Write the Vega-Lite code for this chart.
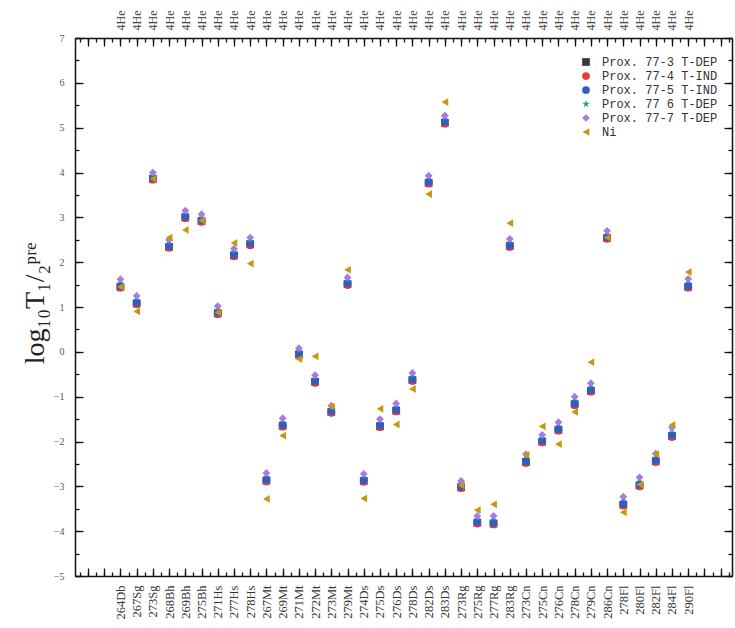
{
  "$schema": "https://vega.github.io/schema/vega-lite/v6.json",
  "width": 657,
  "height": 538,
  "autosize": {"type": "none"},
  "padding": {"left": 75, "top": 38, "right": 3, "bottom": 52},
  "background": "white",
  "config": {
    "view": {"stroke": null},
    "axis": {"domainColor": "#111", "domainWidth": 1.5, "tickColor": "#111", "tickWidth": 1.3, "grid": false, "labelFont": "Liberation Serif", "titleFont": "Liberation Serif"}
  },
  "data": {"values": [
    {"i": 1, "n": "264Db", "p3": 1.45, "p4": 1.43, "p5": 1.47, "p6": 1.59, "p7": 1.62, "ni": 1.45},
    {"i": 2, "n": "267Sg", "p3": 1.08, "p4": 1.06, "p5": 1.1, "p6": 1.22, "p7": 1.25, "ni": 0.9},
    {"i": 3, "n": "273Sg", "p3": 3.86, "p4": 3.84, "p5": 3.88, "p6": 3.97, "p7": 4.0, "ni": 3.86},
    {"i": 4, "n": "268Bh", "p3": 2.34, "p4": 2.32, "p5": 2.36, "p6": 2.47, "p7": 2.5, "ni": 2.55},
    {"i": 5, "n": "269Bh", "p3": 3.0, "p4": 2.98, "p5": 3.02, "p6": 3.12, "p7": 3.15, "ni": 2.72},
    {"i": 6, "n": "275Bh", "p3": 2.92, "p4": 2.9, "p5": 2.94, "p6": 3.04, "p7": 3.07, "ni": 2.93},
    {"i": 7, "n": "271Hs", "p3": 0.86, "p4": 0.84, "p5": 0.88, "p6": 0.99, "p7": 1.02, "ni": 0.88},
    {"i": 8, "n": "277Hs", "p3": 2.15, "p4": 2.13, "p5": 2.17, "p6": 2.27, "p7": 2.3, "ni": 2.43},
    {"i": 9, "n": "278Hs", "p3": 2.4, "p4": 2.38, "p5": 2.42, "p6": 2.52, "p7": 2.55, "ni": 1.97},
    {"i": 10, "n": "267Mt", "p3": -2.87, "p4": -2.89, "p5": -2.85, "p6": -2.73, "p7": -2.7, "ni": -3.28},
    {"i": 11, "n": "269Mt", "p3": -1.65, "p4": -1.67, "p5": -1.63, "p6": -1.51, "p7": -1.48, "ni": -1.87},
    {"i": 12, "n": "271Mt", "p3": -0.06, "p4": -0.08, "p5": -0.04, "p6": 0.05, "p7": 0.08, "ni": -0.16},
    {"i": 13, "n": "272Mt", "p3": -0.67, "p4": -0.69, "p5": -0.65, "p6": -0.55, "p7": -0.52, "ni": -0.1},
    {"i": 14, "n": "273Mt", "p3": -1.34, "p4": -1.36, "p5": -1.32, "p6": -1.23, "p7": -1.2, "ni": -1.22},
    {"i": 15, "n": "279Mt", "p3": 1.51, "p4": 1.49, "p5": 1.53, "p6": 1.63, "p7": 1.66, "ni": 1.83},
    {"i": 16, "n": "274Ds", "p3": -2.88, "p4": -2.9, "p5": -2.86, "p6": -2.75, "p7": -2.72, "ni": -3.27},
    {"i": 17, "n": "275Ds", "p3": -1.66, "p4": -1.68, "p5": -1.64, "p6": -1.53, "p7": -1.5, "ni": -1.27},
    {"i": 18, "n": "276Ds", "p3": -1.31, "p4": -1.33, "p5": -1.29, "p6": -1.18, "p7": -1.15, "ni": -1.62},
    {"i": 19, "n": "278Ds", "p3": -0.63, "p4": -0.65, "p5": -0.61, "p6": -0.5, "p7": -0.47, "ni": -0.83},
    {"i": 20, "n": "282Ds", "p3": 3.77, "p4": 3.75, "p5": 3.79, "p6": 3.9, "p7": 3.93, "ni": 3.52},
    {"i": 21, "n": "283Ds", "p3": 5.11, "p4": 5.09, "p5": 5.13, "p6": 5.24, "p7": 5.27, "ni": 5.57},
    {"i": 22, "n": "273Rg", "p3": -3.02, "p4": -3.04, "p5": -3.0, "p6": -2.91, "p7": -2.88, "ni": -2.98},
    {"i": 23, "n": "275Rg", "p3": -3.81, "p4": -3.83, "p5": -3.79, "p6": -3.69, "p7": -3.66, "ni": -3.53},
    {"i": 24, "n": "277Rg", "p3": -3.83, "p4": -3.85, "p5": -3.81, "p6": -3.69, "p7": -3.66, "ni": -3.4},
    {"i": 25, "n": "283Rg", "p3": 2.36, "p4": 2.34, "p5": 2.38, "p6": 2.49, "p7": 2.52, "ni": 2.87},
    {"i": 26, "n": "273Cn", "p3": -2.46, "p4": -2.48, "p5": -2.44, "p6": -2.31, "p7": -2.28, "ni": -2.3},
    {"i": 27, "n": "275Cn", "p3": -2.0, "p4": -2.02, "p5": -1.98, "p6": -1.88, "p7": -1.85, "ni": -1.66},
    {"i": 28, "n": "276Cn", "p3": -1.74, "p4": -1.76, "p5": -1.72, "p6": -1.6, "p7": -1.57, "ni": -2.06},
    {"i": 29, "n": "278Cn", "p3": -1.17, "p4": -1.19, "p5": -1.15, "p6": -1.03, "p7": -1.0, "ni": -1.34},
    {"i": 30, "n": "279Cn", "p3": -0.87, "p4": -0.89, "p5": -0.85, "p6": -0.73, "p7": -0.7, "ni": -0.23},
    {"i": 31, "n": "286Cn", "p3": 2.54, "p4": 2.52, "p5": 2.56, "p6": 2.67, "p7": 2.7, "ni": 2.55},
    {"i": 32, "n": "278Fl", "p3": -3.41, "p4": -3.43, "p5": -3.39, "p6": -3.26, "p7": -3.23, "ni": -3.58},
    {"i": 33, "n": "280Fl", "p3": -2.98, "p4": -3.0, "p5": -2.96, "p6": -2.83, "p7": -2.8, "ni": -2.96},
    {"i": 34, "n": "282Fl", "p3": -2.44, "p4": -2.46, "p5": -2.42, "p6": -2.3, "p7": -2.27, "ni": -2.28},
    {"i": 35, "n": "284Fl", "p3": -1.88, "p4": -1.9, "p5": -1.86, "p6": -1.71, "p7": -1.68, "ni": -1.63},
    {"i": 36, "n": "290Fl", "p3": 1.45, "p4": 1.43, "p5": 1.47, "p6": 1.6, "p7": 1.63, "ni": 1.78}
  ]},
  "transform": [{"fold": ["p3", "p4", "p5", "p6", "p7", "ni"], "as": ["s", "v"]}],
  "layer": [
    {
      "mark": {"type": "point", "opacity": 0},
      "encoding": {
        "x": {
          "field": "i", "type": "quantitative",
          "scale": {"domain": [-1.8, 38.7], "nice": false, "zero": false},
          "axis": {"orient": "bottom", "title": null, "tickCount": 80, "labels": false, "domain": false, "tickSize": -4}
        },
        "y": {
          "field": "v", "type": "quantitative",
          "scale": {"domain": [-5, 7], "nice": false, "zero": false},
          "axis": {"orient": "left", "title": null, "tickCount": 24, "labels": false, "domain": false, "tickSize": -4}
        }
      }
    },
    {
      "mark": {"type": "point", "opacity": 0},
      "encoding": {
        "x": {
          "field": "i", "type": "quantitative",
          "scale": {"domain": [-1.8, 38.7], "nice": false, "zero": false},
          "axis": {"orient": "top", "title": null, "tickCount": 80, "labels": false, "domain": false, "tickSize": -4}
        },
        "y": {
          "field": "v", "type": "quantitative",
          "scale": {"domain": [-5, 7], "nice": false, "zero": false},
          "axis": {"orient": "right", "title": null, "tickCount": 24, "labels": false, "domain": false, "tickSize": -4}
        }
      }
    },
    {
      "mark": {"type": "point", "opacity": 0},
      "encoding": {
        "x": {
          "field": "i", "type": "quantitative",
          "scale": {"domain": [-1.8, 38.7], "nice": false, "zero": false},
          "axis": {
            "orient": "top", "title": null, "tickCount": 40,
            "labelExpr": "datum.value >= 1 && datum.value <= 36 ? '4He' : ''",
            "labelAngle": 270, "labelAlign": "left", "labelBaseline": "middle",
            "labelFontSize": 12, "labelColor": "#444", "labelPadding": 16,
            "labelOverlap": false, "labelBound": false, "labelFlush": false,
            "tickSize": -8
          }
        },
        "y": {
          "field": "v", "type": "quantitative",
          "scale": {"domain": [-5, 7], "nice": false, "zero": false},
          "axis": {"orient": "right", "title": null, "tickCount": 12, "labels": false, "tickSize": -8}
        }
      }
    },
    {
      "mark": {"type": "point", "filled": true, "size": 60, "opacity": 1},
      "encoding": {
        "x": {
          "field": "i", "type": "quantitative",
          "scale": {"domain": [-1.8, 38.7], "nice": false, "zero": false},
          "axis": {
            "orient": "bottom", "title": null, "tickCount": 40,
            "labelExpr": "datum.value >= 1 && datum.value <= 36 ? ['264Db','267Sg','273Sg','268Bh','269Bh','275Bh','271Hs','277Hs','278Hs','267Mt','269Mt','271Mt','272Mt','273Mt','279Mt','274Ds','275Ds','276Ds','278Ds','282Ds','283Ds','273Rg','275Rg','277Rg','283Rg','273Cn','275Cn','276Cn','278Cn','279Cn','286Cn','278Fl','280Fl','282Fl','284Fl','290Fl'][datum.value - 1] : ''",
            "labelAngle": 270, "labelAlign": "right", "labelBaseline": "middle",
            "labelFontSize": 12.5, "labelColor": "#333", "labelPadding": 17,
            "labelOverlap": false, "labelBound": false, "labelFlush": false,
            "tickSize": -8
          }
        },
        "y": {
          "field": "v", "type": "quantitative",
          "scale": {"domain": [-5, 7], "nice": false, "zero": false},
          "axis": {
            "orient": "left", "tickCount": 12,
            "labelExpr": "format(datum.value, 'd')",
            "labelFontSize": 10, "labelColor": "#555", "labelPadding": 19,
            "labelOverlap": false, "labelFlush": false, "labelBound": false,
            "tickSize": -8,
            "title": "log₁₀T₁/₂ᵖʳᵉ", "titleFontSize": 28, "titleFontWeight": "normal", "titleColor": "#222",
            "titleX": -40, "titleY": 265, "titleAngle": 270, "titleAlign": "center", "titleBaseline": "middle"
          }
        },
        "color": {
          "field": "s", "type": "nominal",
          "scale": {"domain": ["p3", "p4", "p5", "p6", "p7", "ni"], "range": ["#3a3a3a", "#e8383d", "#2c5fc4", "#2f9e6e", "#a87ae8", "#c9960f"]},
          "legend": {"title": null, "orient": "none", "legendX": 505, "legendY": 18, "padding": 0, "labelFont": "Liberation Mono", "labelFontSize": 12, "labelColor": "#333", "symbolSize": 60, "rowPadding": 2, "labelOffset": 10,
            "labelExpr": "{'p3':'Prox. 77-3 T-DEP','p4':'Prox. 77-4 T-IND','p5':'Prox. 77-5 T-IND','p6':'Prox. 77 6 T-DEP','p7':'Prox. 77-7 T-DEP','ni':'Ni'}[datum.label]"}
        },
        "shape": {
          "field": "s", "type": "nominal",
          "scale": {"domain": ["p3", "p4", "p5", "p6", "p7", "ni"], "range": ["square", "circle", "circle", "M0,-1L0.235,-0.324L0.951,-0.309L0.38,0.124L0.588,0.809L0,0.4L-0.588,0.809L-0.38,0.124L-0.951,-0.309L-0.235,-0.324Z", "diamond", "triangle-left"]},
          "legend": {"title": null, "orient": "none", "legendX": 505, "legendY": 18, "padding": 0, "labelFont": "Liberation Mono", "labelFontSize": 12, "labelColor": "#333", "symbolSize": 60, "rowPadding": 2, "labelOffset": 10,
            "labelExpr": "{'p3':'Prox. 77-3 T-DEP','p4':'Prox. 77-4 T-IND','p5':'Prox. 77-5 T-IND','p6':'Prox. 77 6 T-DEP','p7':'Prox. 77-7 T-DEP','ni':'Ni'}[datum.label]"}
        }
      }
    }
  ],
  "resolve": {"axis": {"x": "independent", "y": "independent"}}
}
